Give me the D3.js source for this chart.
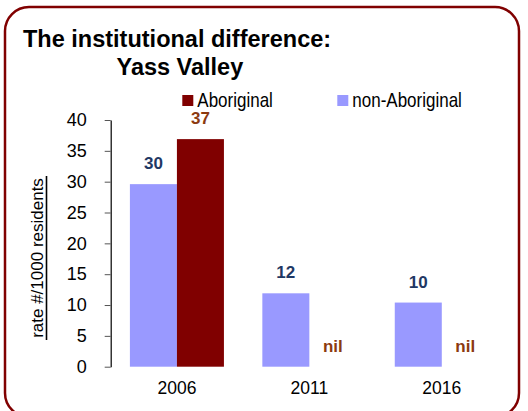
<!DOCTYPE html>
<html>
<head>
<meta charset="utf-8">
<title>Yass Valley</title>
<script src="https://cdn.jsdelivr.net/npm/d3@7"></script>
<style>
    body { margin: 0; background: #fff; }
    text { font-family: "Liberation Sans", Arial, sans-serif; }
</style>
</head>
<body>
<div id="chart"></div>
<script>
var categories = ['2006', '2011', '2016'];
var seriesNames = ['non-Aboriginal', 'Aboriginal'];
var nonAboriginal = [29.6, 11.9, 10.4];
var aboriginal = [36.9, 0, 0];
var nonAboriginalLabels = ['30', '12', '10'];
var aboriginalLabels = ['37', 'nil', 'nil'];
var yTicks = [0, 5, 10, 15, 20, 25, 30, 35, 40];

var width = 528, height = 411;
var colors = { 'Aboriginal': '#800000', 'non-Aboriginal': '#9999ff' };
var labelColors = { 'Aboriginal': '#8c3a10', 'non-Aboriginal': '#1f3864' };

var svg = d3.select('#chart').append('svg')
    .attr('width', width)
    .attr('height', height);

// frame (bottom runs off the picture)
svg.append('rect')
    .attr('x', 5).attr('y', 7)
    .attr('width', 514).attr('height', 410)
    .attr('rx', 24).attr('ry', 24)
    .attr('fill', 'none')
    .attr('stroke', '#800000')
    .attr('stroke-width', 2.5);

// title
svg.append('text')
    .attr('x', 23).attr('y', 46.5)
    .attr('font-size', 23.5).attr('font-weight', 'bold')
    .text('The institutional difference:');
svg.append('text')
    .attr('x', 116.5).attr('y', 75)
    .attr('font-size', 23.5).attr('font-weight', 'bold')
    .text('Yass Valley');

var x = d3.scaleBand()
    .domain(categories)
    .range([110.7, 508])
    .paddingInner(0.29)
    .paddingOuter(0.145);

var x1 = d3.scaleBand()
    .domain(seriesNames)
    .range([0, x.bandwidth()]);

var y = d3.scaleLinear()
    .domain([0, 40])
    .range([366.7, 120]);

// y axis
var yAxis = svg.append('g')
    .attr('transform', 'translate(110.7,0)')
    .call(d3.axisLeft(y).tickValues(yTicks).tickSize(6).tickSizeOuter(0).tickPadding(18));
yAxis.select('.domain').attr('stroke', '#000').attr('stroke-width', 1.2);
yAxis.selectAll('.tick line').attr('stroke', '#555');
yAxis.selectAll('.tick text')
    .attr('font-size', 18)
    .attr('font-family', '"Liberation Sans", Arial, sans-serif')
    .attr('fill', '#000');

// y axis title (underlined)
var yTitle = svg.append('g').attr('transform', 'translate(43,258) rotate(-90)');
yTitle.append('text')
    .attr('text-anchor', 'middle')
    .attr('font-size', 17)
    .text('rate #/1000 residents');
yTitle.append('line')
    .attr('x1', -82).attr('x2', 82)
    .attr('y1', 3.5).attr('y2', 3.5)
    .attr('stroke', '#000').attr('stroke-width', 1.6);

// bars
var rows = categories.map(function(c, i) {
    return [
        { cat: c, key: 'non-Aboriginal', value: nonAboriginal[i], label: nonAboriginalLabels[i] },
        { cat: c, key: 'Aboriginal', value: aboriginal[i], label: aboriginalLabels[i] }
    ];
});

var groups = svg.selectAll('.group')
    .data(rows)
    .enter().append('g')
    .attr('class', 'group')
    .attr('transform', function(d, i) { return 'translate(' + x(categories[i]) + ',0)'; });

groups.selectAll('rect')
    .data(function(d) { return d; })
    .enter().append('rect')
    .attr('x', function(d) { return x1(d.key); })
    .attr('y', function(d) { return y(d.value); })
    .attr('width', x1.bandwidth())
    .attr('height', function(d) { return y(0) - y(d.value); })
    .attr('fill', function(d) { return colors[d.key]; });

groups.selectAll('.val')
    .data(function(d) { return d; })
    .enter().append('text')
    .attr('class', 'val')
    .attr('x', function(d) { return x1(d.key) + x1.bandwidth() / 2; })
    .attr('y', function(d) { return y(d.value) - 15; })
    .attr('text-anchor', 'middle')
    .attr('font-size', 17)
    .attr('font-weight', 'bold')
    .attr('fill', function(d) { return labelColors[d.key]; })
    .text(function(d) { return d.label; });

// x labels
svg.selectAll('.xlab')
    .data(categories)
    .enter().append('text')
    .attr('class', 'xlab')
    .attr('x', function(d) { return x(d) + x.bandwidth() / 2; })
    .attr('y', 394)
    .attr('text-anchor', 'middle')
    .attr('font-size', 17.5)
    .text(function(d) { return d; });

// legend
var legendItems = [
    { key: 'Aboriginal', x: 182.3 },
    { key: 'non-Aboriginal', x: 337.3 }
];
var legend = svg.selectAll('.legend')
    .data(legendItems)
    .enter().append('g')
    .attr('class', 'legend')
    .attr('transform', function(d) { return 'translate(' + d.x + ',95)'; });
legend.append('rect')
    .attr('width', 11).attr('height', 11)
    .attr('fill', function(d) { return colors[d.key]; });
legend.append('text')
    .attr('transform', 'translate(15,11.7) scale(1,1.2)')
    .attr('font-size', 17)
    .text(function(d) { return d.key; });
</script>
</body>
</html>
